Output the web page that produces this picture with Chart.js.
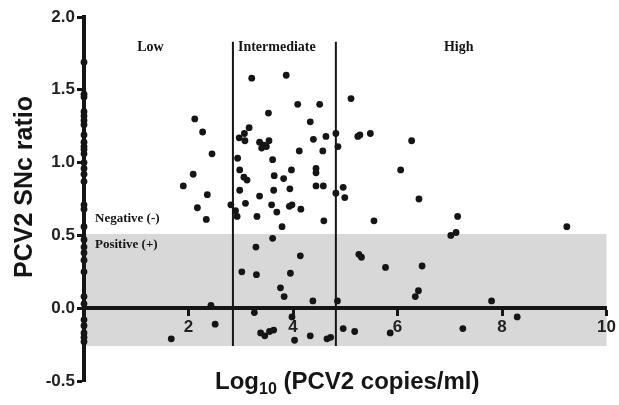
<!DOCTYPE html>
<html>
<head>
<meta charset="utf-8">
<script src="https://cdn.jsdelivr.net/npm/chart.js@4.4.1/dist/chart.umd.min.js"></script>
<style>
  html, body { margin: 0; padding: 0; background: #fff; }
  #wrap { width: 619px; height: 405px; }
</style>
</head>
<body>
<div id="wrap"><canvas id="snChart" width="619" height="405"></canvas></div>
<script>
'use strict';

// samples with no detectable PCV2 (plotted on x = 0)
const zeroCopyRatio = [1.69, 1.47, 1.45, 1.35, 1.32, 1.29, 1.26, 1.19, 1.14, 1.11, 1.09, 1.06, 1.00, 0.96, 0.92, 0.87,
  0.71, 0.68, 0.56, 0.47, 0.42, 0.38, 0.33, 0.25, 0.08, 0.03, -0.08, -0.12, -0.17, -0.20, -0.23];

// log10 copies/ml and SNc ratio of the positive samples
const logCopies = [
  2.12, 2.27, 2.45, 2.09, 1.90, 2.36, 2.17, 2.34, 2.81, 2.43, 2.51, 1.67,
  3.21, 3.87, 4.09, 4.51, 3.53, 4.33, 3.16, 3.07, 2.97, 3.08, 4.63, 3.36, 3.44, 3.54, 3.40, 3.49,
  4.39, 4.12, 4.57, 2.94, 3.61, 2.98, 3.97, 4.44, 4.44, 3.06, 3.12, 3.64, 3.82, 4.44, 4.58,
  2.98, 3.63, 3.94, 3.36, 3.09, 3.59, 3.93, 3.98, 4.15, 3.69, 2.90, 2.93, 3.31, 4.59, 3.79,
  3.61, 3.29, 4.14, 3.02, 3.30, 3.95, 3.76, 3.83, 4.38, 3.26, 3.98, 3.38, 3.46, 3.55, 3.63,
  4.03, 4.33, 4.65, 4.72,
  4.82, 4.86, 4.82, 4.96, 4.99, 4.85, 4.96, 5.18, 5.11, 5.24, 5.28, 5.48, 6.27, 6.06, 6.41,
  5.55, 7.15, 9.24, 7.02, 7.12, 5.26, 5.31, 5.77, 6.47, 6.34, 6.40, 7.80, 8.29, 5.86, 7.25
];
const snRatio = [
  1.30, 1.21, 1.06, 0.92, 0.84, 0.78, 0.69, 0.61, 0.71, 0.02, -0.11, -0.21,
  1.58, 1.60, 1.40, 1.40, 1.34, 1.28, 1.24, 1.20, 1.17, 1.15, 1.18, 1.14, 1.12, 1.15, 1.10, 1.11,
  1.16, 1.08, 1.08, 1.03, 1.02, 0.95, 0.95, 0.96, 0.93, 0.90, 0.88, 0.91, 0.89, 0.84, 0.84,
  0.81, 0.81, 0.82, 0.77, 0.72, 0.71, 0.70, 0.71, 0.68, 0.66, 0.67, 0.63, 0.63, 0.60, 0.56,
  0.48, 0.42, 0.36, 0.25, 0.23, 0.24, 0.14, 0.08, 0.05, -0.03, -0.06, -0.17, -0.19, -0.16, -0.15,
  -0.22, -0.19, -0.21, -0.20,
  1.20, 1.11, 0.79, 0.83, 0.76, 0.05, -0.14, -0.16, 1.44, 1.18, 1.19, 1.20, 1.15, 0.95, 0.75,
  0.60, 0.63, 0.56, 0.50, 0.52, 0.37, 0.35, 0.28, 0.29, 0.08, 0.12, 0.05, -0.06, -0.17, -0.14
];

const groupCutoffs = [2.85, 4.82];      // Low | Intermediate | High
const cutoffSpan = [-0.26, 1.83];
const positiveBand = [-0.26, 0.51];    // shaded range, x 0..10
const xTicks = [2, 4, 6, 8, 10];
const yTicks = [-0.5, 0, 0.5, 1.0, 1.5, 2.0];

const INK = '#151515';
const SANS = '"Liberation Sans", Arial, sans-serif';
const SERIF = '"Liberation Serif", "Times New Roman", serif';

const bandPlugin = {
  id: 'band',
  beforeDraw(chart) {
    const { ctx, scales: { x, y } } = chart;
    const x0 = x.getPixelForValue(0), x1 = x.getPixelForValue(10);
    const yTop = y.getPixelForValue(positiveBand[1]), yBot = y.getPixelForValue(positiveBand[0]);
    ctx.save();
    ctx.fillStyle = '#d8d8d8';
    ctx.fillRect(x0, yTop, x1 - x0, yBot - yTop);
    ctx.restore();
  },
};

const textPlugin = {
  id: 'texts',
  afterDraw(chart) {
    const { ctx, scales: { x, y } } = chart;
    ctx.save();
    ctx.fillStyle = INK;

    // group names
    ctx.font = 'bold 14px ' + SERIF;
    ctx.textAlign = 'center';
    ctx.textBaseline = 'middle';
    [['Low', 1.27], ['Intermediate', 3.69], ['High', 7.17]].forEach(([t, v]) => {
      ctx.fillText(t, x.getPixelForValue(v), y.getPixelForValue(1.79));
    });

    ctx.font = 'bold 13px ' + SERIF;
    ctx.textAlign = 'left';
    ctx.fillText('Negative (-)', 95, 219);
    ctx.fillText('Positive (+)', 95, 245);

    // y title
    ctx.save();
    ctx.translate(25, 187);
    ctx.rotate(-Math.PI / 2);
    ctx.font = 'bold 25px ' + SANS;
    ctx.textAlign = 'center';
    ctx.textBaseline = 'middle';
    ctx.fillText('PCV2 SNc ratio', 0, 0);
    ctx.restore();

    // x title with subscript
    ctx.textBaseline = 'alphabetic';
    ctx.textAlign = 'left';
    let px = 215;
    const base = 389;
    ctx.font = 'bold 24px ' + SANS;
    ctx.fillText('Log', px, base);
    px += ctx.measureText('Log').width;
    ctx.font = 'bold 16px ' + SANS;
    ctx.fillText('10', px, base + 5);
    px += ctx.measureText('10').width;
    ctx.font = 'bold 24px ' + SANS;
    ctx.fillText(' (PCV2 copies/ml)', px, base);
    ctx.restore();
  },
};

const points = zeroCopyRatio.map(v => ({ x: 0, y: v }))
  .concat(logCopies.map((v, i) => ({ x: v, y: snRatio[i] })));

const cutoffLines = groupCutoffs.map(c => ({
  type: 'line',
  data: [{ x: c, y: cutoffSpan[0] }, { x: c, y: cutoffSpan[1] }],
  borderColor: INK,
  borderWidth: 2,
  pointRadius: 0,
  clip: false,
}));

new Chart(document.getElementById('snChart'), {
  type: 'scatter',
  data: {
    datasets: [
      {
        data: points,
        pointRadius: 3.4,
        pointHoverRadius: 3.4,
        pointBackgroundColor: INK,
        pointBorderWidth: 0,
        clip: false,
      },
      ...cutoffLines,
    ],
  },
  options: {
    responsive: false,
    animation: false,
    events: [],
    layout: { padding: { left: 0, top: 17, right: 9, bottom: 24 } },
    plugins: { legend: { display: false }, tooltip: { enabled: false } },
    scales: {
      x: {
        type: 'linear',
        min: 0, max: 10,
        position: { y: 0 },
        afterBuildTicks: s => { s.ticks = xTicks.map(v => ({ value: v })); },
        afterFit: s => { s.height = 0; },
        grid: { drawOnChartArea: false, tickLength: 6, tickWidth: 3, tickColor: INK },
        border: { width: 4, color: INK },
        ticks: { padding: 3, color: '#222', font: { family: SANS, size: 17, weight: 'bold' }, maxRotation: 0, autoSkip: false },
      },
      y: {
        type: 'linear',
        min: -0.5, max: 2.0,
        afterBuildTicks: s => { s.ticks = yTicks.map(v => ({ value: v })); },
        afterFit: s => { s.width = 84; },
        grid: { drawOnChartArea: false, tickLength: 7, tickWidth: 3, tickColor: INK },
        border: { width: 4, color: INK },
        ticks: {
          padding: 2, color: '#222', font: { family: SANS, size: 17, weight: 'bold' },
          callback: v => v.toFixed(1),
        },
      },
    },
  },
  plugins: [bandPlugin, textPlugin],
});
</script>
</body>
</html>
